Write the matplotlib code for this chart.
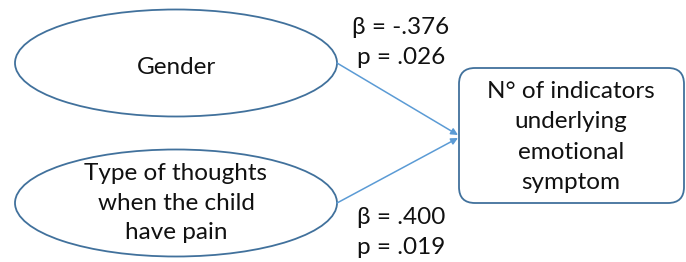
import matplotlib.pyplot as plt
from matplotlib.patches import Ellipse, FancyBboxPatch

# path model: two predictors -> one outcome
predictors = ["Gender", "Type of thoughts\nwhen the child\nhave pain"]
outcome = "N° of indicators\nunderlying\nemotional\nsymptom"
betas = ["-.376", ".400"]
pvals = [".026", ".019"]

edge_col = "#41719C"
arrow_col = "#5B9BD5"
text_col = "#111111"

fig = plt.figure(figsize=(6.86, 2.62), dpi=100)
ax = fig.add_axes([0, 0, 1, 1])
ax.set_xlim(0, 686)
ax.set_ylim(262, 0)
ax.axis("off")

font = "Lato"
fs = 17.5

centers = [(176, 63), (176, 203)]
label_dy = [4, 0]
for (cx, cy), label, dy in zip(centers, predictors, label_dy):
    ax.add_patch(Ellipse((cx, cy), 322, 107, facecolor="white",
                         edgecolor=edge_col, linewidth=1.3))
    ax.text(cx, cy + dy, label, ha="center", va="center", family=font,
            fontsize=fs, color=text_col, linespacing=1.52)

# outcome box
ax.add_patch(FancyBboxPatch((459, 68), 225, 135,
                            boxstyle="round,pad=0,rounding_size=16",
                            facecolor="white", edgecolor=edge_col,
                            linewidth=1.3))
ax.text(571, 137, outcome, ha="center", va="center", family=font,
        fontsize=fs, color=text_col, linespacing=1.56)

# arrows
for (cx, cy), ty in zip(centers, [135, 138]):
    ax.annotate("", xy=(458, ty), xytext=(cx + 161, cy),
                arrowprops=dict(arrowstyle="-|>", color=arrow_col, lw=1.1,
                                mutation_scale=10, shrinkA=0, shrinkB=0))

# coefficients
label_y = [(27, 58), (218, 248)]
for b, p, (yb, yp) in zip(betas, pvals, label_y):
    ax.text(401, yb, "β = " + b, ha="center", va="center", family=font,
            fontsize=fs, color=text_col)
    ax.text(401, yp, "p = " + p, ha="center", va="center", family=font,
            fontsize=fs, color=text_col)

fig.savefig("out.png", dpi=100)
